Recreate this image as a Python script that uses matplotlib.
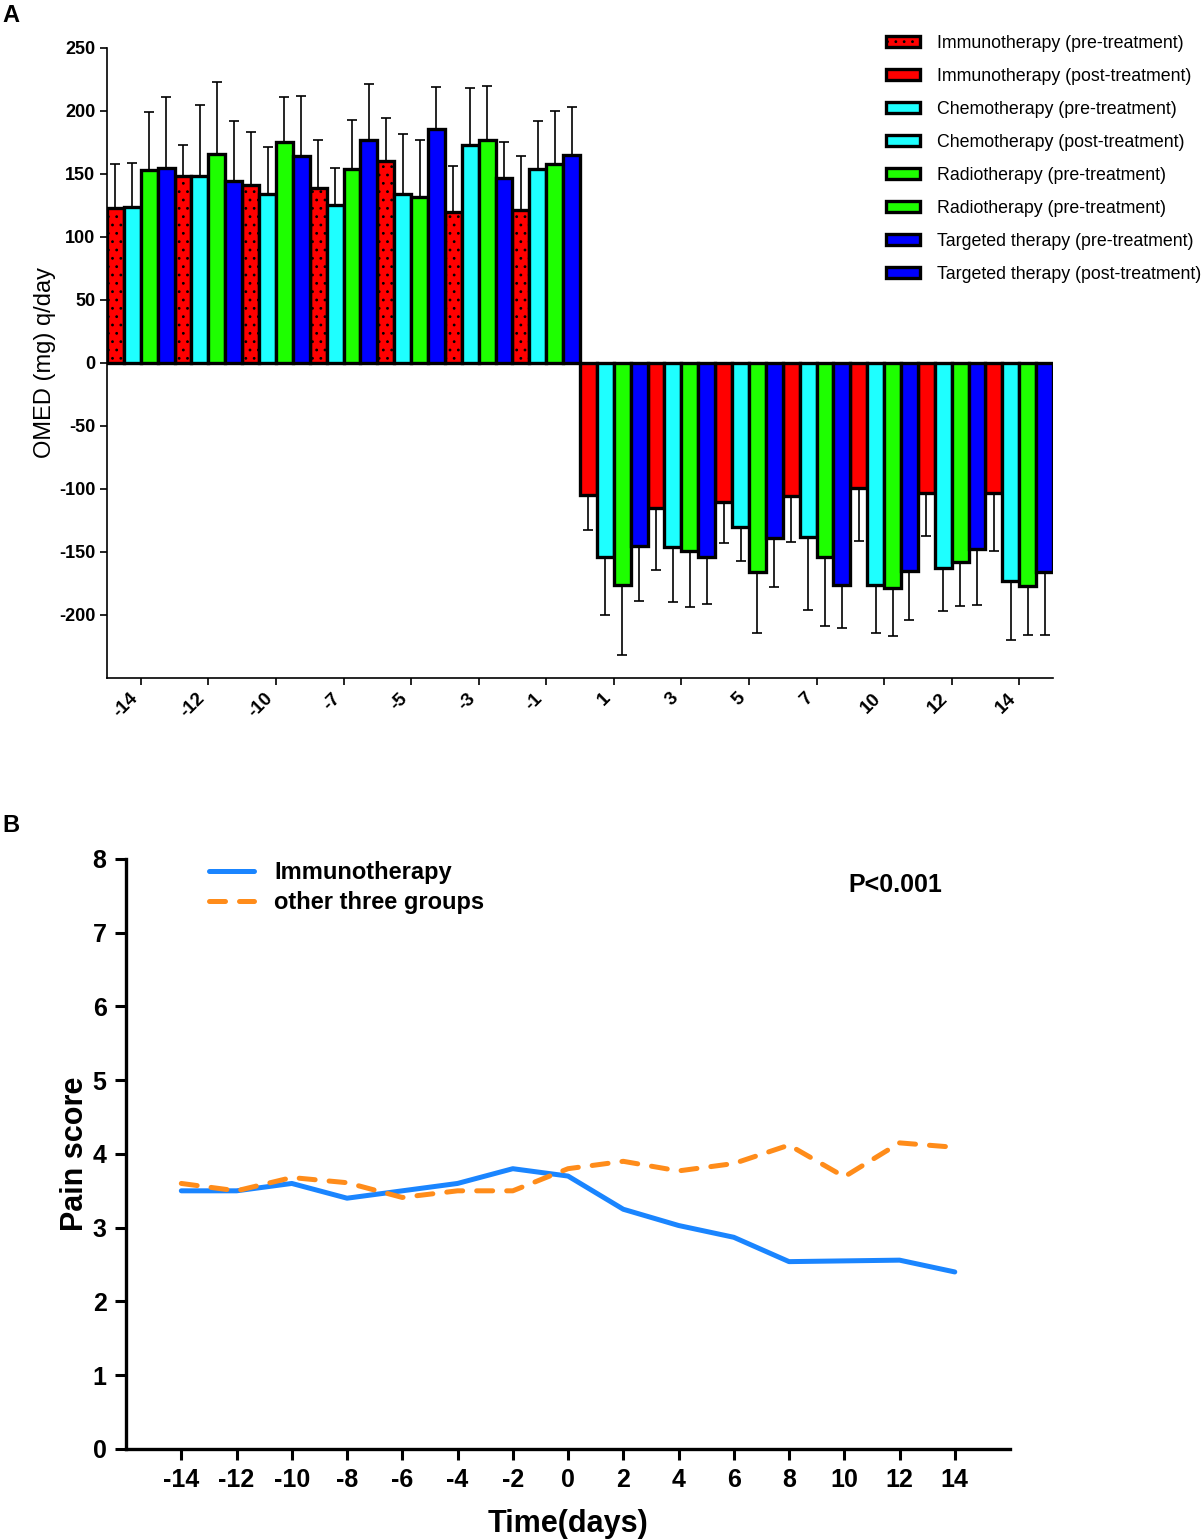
import numpy as np
import matplotlib
matplotlib.use('Agg')
import matplotlib.pyplot as plt
from matplotlib.patches import Patch

plt.rcParams['font.family'] = ['Liberation Sans', 'DejaVu Sans']
plt.rcParams['hatch.linewidth'] = 0.8

# ---- panel A data: OMED (mg) q/day, 7 pre-treatment days then 7 post-treatment days
days_a = ['-14', '-12', '-10', '-7', '-5', '-3', '-1', '1', '3', '5', '7', '10', '12', '14']
immuno_mean = [123, 148, 141, 139, 160, 120, 121, -105, -115, -110, -106, -99, -103, -103]
immuno_sd = [35, 25, 42, 38, 34, 36, 43, 28, 49, 33, 36, 42, 34, 46]
chemo_mean = [124, 148, 134, 125, 134, 173, 154, -154, -146, -130, -138, -176, -163, -173]
chemo_sd = [35, 57, 37, 30, 48, 45, 38, 46, 44, 27, 58, 38, 34, 47]
radio_mean = [153, 166, 175, 154, 132, 177, 158, -176, -149, -166, -154, -179, -158, -177]
radio_sd = [46, 57, 36, 39, 45, 43, 42, 56, 45, 48, 55, 38, 35, 39]
target_mean = [155, 144, 164, 177, 186, 147, 165, -145, -154, -139, -176, -165, -148, -166]
target_sd = [56, 48, 48, 44, 33, 28, 38, 44, 37, 39, 34, 39, 44, 50]

legend_labels = ['Immunotherapy (pre-treatment)', 'Immunotherapy (post-treatment)',
                 'Chemotherapy (pre-treatment)', 'Chemotherapy (post-treatment)',
                 'Radiotherapy (pre-treatment)', 'Radiotherapy (pre-treatment)',
                 'Targeted therapy (pre-treatment)', 'Targeted therapy (post-treatment)']

# ---- panel B data: pain score
days_b = [-14, -12, -10, -8, -6, -4, -2, 0, 2, 4, 6, 8, 10, 12, 14]
immuno_pain = [3.5, 3.5, 3.6, 3.4, 3.5, 3.6, 3.8, 3.7, 3.25, 3.03, 2.87, 2.54, 2.55, 2.56, 2.40]
other_pain = [3.6, 3.5, 3.68, 3.61, 3.41, 3.5, 3.5, 3.8, 3.9, 3.77, 3.87, 4.12, 3.69, 4.15, 4.09]

colors = ['#ff0000', '#1effff', '#1eff00', '#0000ff']

fig = plt.figure(figsize=(12.04, 15.39), dpi=100)

# ================= panel A =================
ax = fig.add_axes([0.0889, 0.5595, 0.7857, 0.4094])
n = len(days_a)
series = [(immuno_mean, immuno_sd), (chemo_mean, chemo_sd),
          (radio_mean, radio_sd), (target_mean, target_sd)]
for k, (mean, sd) in enumerate(series):
    mean = np.array(mean, dtype=float)
    sd = np.array(sd, dtype=float)
    x = np.arange(n) * 4 + k
    low = np.where(mean < 0, sd, 0)
    high = np.where(mean > 0, sd, 0)
    ax.errorbar(x, mean, yerr=[low, high], fmt='none', ecolor='black',
                elinewidth=1.2, capsize=3.5, capthick=1.2, zorder=1)
    for i in range(n):
        hatch = '..' if (k == 0 and i < 7) else None
        ax.bar(x[i], mean[i], width=1.0, color=colors[k], edgecolor='black',
               linewidth=2.4, hatch=hatch, zorder=2)

ax.axhline(0, color='black', linestyle=':', linewidth=0.9, zorder=3)
ax.set_xlim(-0.5, n * 4 - 0.5)
ax.set_ylim(-250, 250)
ax.set_yticks(np.arange(-200, 251, 50))
ax.set_yticklabels([str(v) for v in range(-200, 251, 50)], fontsize=13, fontweight='bold')
ax.set_xticks(np.arange(n) * 4 + 1.5)
ax.set_xticklabels(days_a, rotation=45, ha='right', fontsize=13.5, fontweight='bold')
ax.set_ylabel('OMED (mg) q/day', fontsize=17, labelpad=2)
for s in ['top', 'right']:
    ax.spines[s].set_visible(False)
for s in ['left', 'bottom']:
    ax.spines[s].set_linewidth(1.2)
ax.tick_params(axis='both', direction='out', length=5, width=1.2)

handles = []
for j, lab in enumerate(legend_labels):
    handles.append(Patch(facecolor=colors[j // 2], edgecolor='black', linewidth=2.4,
                         hatch='..' if j == 0 else None, label=lab))
fig.legend(handles=handles, loc='upper left', bbox_to_anchor=(0.736, 0.9775),
           frameon=False, fontsize=12.8, handlelength=1.9, handleheight=0.6,
           handletextpad=0.95, labelspacing=0.9, borderpad=0, borderaxespad=0)

fig.text(0.002, 0.99, 'A', fontsize=17, fontweight='bold', va='center', ha='left')

# ================= panel B =================
bx = fig.add_axes([0.1047, 0.0585, 0.7342, 0.3834])
bx.plot(days_b, immuno_pain, color='#1a85ff', linewidth=3.6, solid_capstyle='round',
        solid_joinstyle='round', label='Immunotherapy')
bx.plot(days_b, other_pain, color='#ff8c1a', linewidth=3.6, dashes=(3.2, 2.8),
        dash_capstyle='round', dash_joinstyle='round', label='other three groups')
bx.set_xlim(-16, 16)
bx.set_ylim(0, 8)
bx.set_xticks(days_b)
bx.set_xticklabels([str(d) for d in days_b], fontsize=18, fontweight='bold')
bx.set_yticks(range(0, 9))
bx.set_yticklabels([str(v) for v in range(0, 9)], fontsize=18, fontweight='bold')
bx.set_xlabel('Time(days)', fontsize=22, fontweight='bold', labelpad=12)
bx.set_ylabel('Pain score', fontsize=22, fontweight='bold', labelpad=2)
for s in ['top', 'right']:
    bx.spines[s].set_visible(False)
for s in ['left', 'bottom']:
    bx.spines[s].set_linewidth(2.4)
bx.tick_params(axis='both', direction='out', length=8, width=2.2, pad=6)
bx.legend(loc='upper left', bbox_to_anchor=(0.081, 1.016), frameon=False,
          prop={'size': 17, 'weight': 'bold'}, handlelength=1.9, handletextpad=0.85,
          labelspacing=0.3, borderpad=0)
bx.text(0.817, 0.956, 'P<0.001', transform=bx.transAxes, fontsize=18,
        fontweight='bold', ha='left', va='center')

fig.text(0.002, 1 - 826 / 1539, 'B', fontsize=17, fontweight='bold', va='center', ha='left')

fig.savefig('out.png', dpi=100)
